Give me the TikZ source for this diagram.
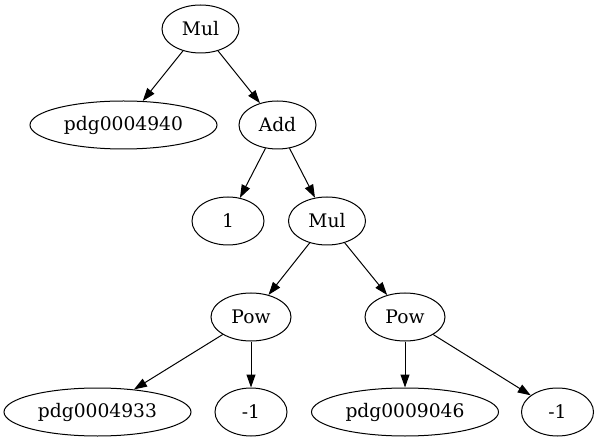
\documentclass[tikz,border=0pt]{standalone}
\usepackage{fontspec}
\setmainfont{DejaVu Serif}
\usetikzlibrary{shapes.geometric,arrows.meta}

\begin{document}
\begin{tikzpicture}[x=1pt,y=-1pt,
    op/.style={ellipse,draw,line width=1pt,inner sep=0pt,minimum height=48pt,
      font=\fontsize{18.67}{22}\selectfont},
    every edge/.style={draw,line width=1pt,-{Triangle[length=13pt,width=9pt]}}]
    \useasboundingbox (0,0) rectangle (599,443);
    %states
    \node[op,minimum width=77pt] (mul1) at (200.5,29) {Mul};
    \node[op,minimum width=187pt] (pdgA) at (123.5,125) {pdg0004940};
    \node[op,minimum width=77pt] (add) at (277.5,125) {Add};
    \node[op,minimum width=72pt] (one) at (228,221) {1};
    \node[op,minimum width=77pt] (mul2) at (327,221) {Mul};
    \node[op,minimum width=80pt] (powA) at (251,317) {Pow};
    \node[op,minimum width=80pt] (powB) at (405,317) {Pow};
    \node[op,minimum width=187pt] (pdgB) at (97.5,412) {pdg0004933};
    \node[op,minimum width=72pt] (negA) at (251,412) {-1};
    \node[op,minimum width=187pt] (pdgC) at (405,412) {pdg0009046};
    \node[op,minimum width=72pt] (negB) at (557.5,412) {-1};
    %edges
    \path
     (mul1) edge (pdgA)
     (mul1) edge (add)
     (add) edge (one)
     (add) edge (mul2)
     (mul2) edge (powA)
     (mul2) edge (powB)
     (powA) edge (pdgB)
     (powA) edge (negA)
     (powB) edge (pdgC)
     (powB) edge (negB);
\end{tikzpicture}
\end{document}
